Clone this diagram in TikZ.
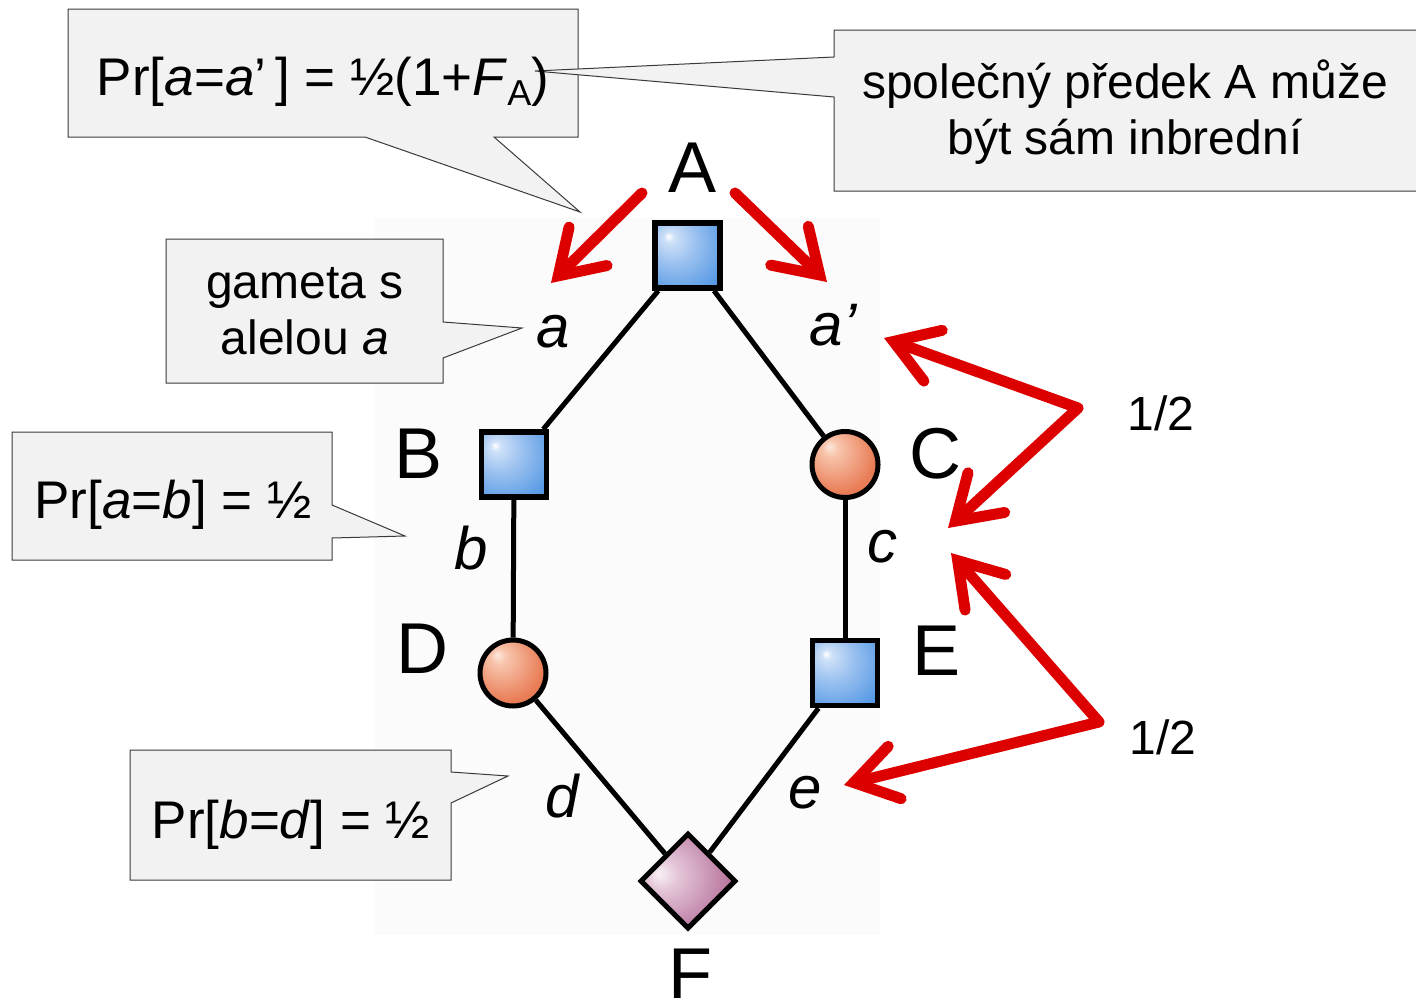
\documentclass[tikz,border=0pt]{standalone}
\usepackage{fontspec}
\setmainfont{Liberation Sans}
\usetikzlibrary{arrows.meta,shapes.geometric}
\definecolor{calfill}{HTML}{F2F2F2}
\definecolor{caldraw}{HTML}{3A3A3A}
\definecolor{arrred}{HTML}{DD0000}
\definecolor{bgpanel}{HTML}{FBFBFB}
\definecolor{blA}{HTML}{9CC2F0}
\definecolor{blB}{HTML}{4A92E2}
\definecolor{blC}{HTML}{0C6CCC}
\definecolor{orA}{HTML}{F5B190}
\definecolor{orB}{HTML}{E97E58}
\definecolor{orC}{HTML}{D65A34}
\definecolor{pkA}{HTML}{D6A8C4}
\definecolor{pkB}{HTML}{B8759D}
\definecolor{pkC}{HTML}{9C507E}
\pgfdeclareradialshading{bluesq}{\pgfpoint{-15bp}{15bp}}{color(0bp)=(white); color(4bp)=(white!50!blA); color(17bp)=(blA); color(42bp)=(blB); color(66bp)=(blC)}
\pgfdeclareradialshading{orcirc}{\pgfpoint{-12bp}{14bp}}{color(0bp)=(white!70!orA); color(6bp)=(white!25!orA); color(28bp)=(orB); color(56bp)=(orC)}
\pgfdeclareradialshading{pkdia}{\pgfpoint{-16bp}{4bp}}{color(0bp)=(white!85!pkA); color(8bp)=(white!35!pkA); color(30bp)=(pkB); color(56bp)=(pkC)}
\tikzset{
  callout/.style={fill=calfill, draw=caldraw, line width=1pt, line join=miter},
  pedline/.style={line width=5pt},
  sqnode/.style={rectangle, draw, line width=5.5pt, shade, shading=bluesq, minimum size=65pt, inner sep=0pt},
  circnode/.style={circle, draw, line width=5pt, shade, shading=orcirc, minimum size=66pt, inner sep=0pt},
  dianode/.style={diamond, draw, line width=5pt, shade, shading=pkdia, minimum size=96pt, inner sep=0pt},
  bigletter/.style={font=\fontsize{72}{72}\selectfont, inner sep=0pt, anchor=base},
  allele/.style={font=\fontsize{60}{60}\selectfont\itshape, inner sep=0pt, anchor=base},
  prtext/.style={font=\fontsize{53}{60}\selectfont, inner sep=0pt, anchor=base},
  notetext/.style={font=\fontsize{48}{56}\selectfont, inner sep=0pt, align=center},
  halftext/.style={font=\fontsize{48}{48}\selectfont, inner sep=0pt, anchor=base},
  redarr/.style={draw=arrred, line width=11pt, line cap=round, line join=round,
    -{Straight Barb[length=42pt,width=54pt,line width=11pt,line cap=round,line join=miter]}}
}
\begin{document}
\begin{tikzpicture}[x=1pt,y=-1pt]
\useasboundingbox (0,0) rectangle (1416,1001);
\fill[white] (0,0) rectangle (1416,1001);
% faint panel behind the pedigree
\fill[bgpanel] (375,218) rectangle (880,935);

% callouts
\draw[callout] (68,9) -- (578,9) -- (578,137) -- (494,137) -- (580,212) -- (365,137) -- (68,137) -- cycle;
\draw[callout] (834,30) -- (1425,30) -- (1425,191) -- (834,191) -- (834,97) -- (535,71) -- (834,57) -- cycle;
\draw[callout] (166,239) -- (443,239) -- (443,322) -- (522,328) -- (443,358) -- (443,383) -- (166,383) -- cycle;
\draw[callout] (12,432) -- (332,432) -- (332,505) -- (405,536) -- (332,538) -- (332,560) -- (12,560) -- cycle;
\draw[callout] (130,750) -- (451,750) -- (451,772) -- (508,776) -- (451,803) -- (451,880) -- (130,880) -- cycle;

\node[prtext] (t1) at (323,95) {Pr[\textit{a}=\textit{a}’\,] = ½(1+\textit{F}\raisebox{-10pt}{\fontsize{36}{36}\selectfont A})};
\node[notetext] (t2) at (1125,112) {společný předek A může\\být sám inbrední};
\node[notetext] (t3) at (305,311) {gameta s\\alelou \textit{a}};
\node[prtext] (t4) at (173,518) {Pr[\textit{a}=\textit{b}] = ½};
\node[prtext] (t5) at (291,838) {Pr[\textit{b}=\textit{d}] = ½};

% pedigree nodes
\node[sqnode] (A) at (687.5,255.5) {};
\node[sqnode] (B) at (514,464.5) {};
\node[circnode] (C) at (845,464.5) {};
\node[circnode] (D) at (513,673) {};
\node[sqnode] (E) at (845,673) {};
\node[dianode] (F) at (688,881) {};

\draw[pedline] (A) -- (B);
\draw[pedline] (A) -- (C);
\draw[pedline] (B) -- (D);
\draw[pedline] (C) -- (E);
\draw[pedline] (D) -- (F);
\draw[pedline] (E) -- (F);

% labels
\node[bigletter] (lA) at (693,192) {A};
\node[bigletter] (lB) at (419,478) {B};
\node[bigletter] (lC) at (935,478) {C};
\node[bigletter] (lD) at (422,673) {D};
\node[bigletter] (lE) at (937,675) {E};
\node[bigletter] (lF) at (690,998) {F};

\node[allele] (la) at (553,347) {a};
\node[allele] (lap) at (833,345) {a’};
\node[allele] (lb) at (471,569) {b};
\node[allele] (lc) at (882,562) {c};
\node[allele] (ld) at (562,817) {d};
\node[allele] (le) at (805,808) {e};

\node[halftext] (h1) at (1161,430) {1/2};
\node[halftext] (h2) at (1163,754) {1/2};

% red arrows
\coordinate (s1) at (642,193);
\coordinate (e1) at (551,283);
\coordinate (s2) at (735,193);
\coordinate (e2) at (827,282);
\coordinate (v3) at (1078,408);
\coordinate (e3a) at (884,338);
\coordinate (e3b) at (948,528);
\coordinate (v4) at (1099,722);
\coordinate (e4a) at (951,553);
\coordinate (e4b) at (844,785);
\draw[redarr] (s1) -- (e1);
\draw[redarr] (s2) -- (e2);
\draw[redarr] (v3) -- (e3a);
\draw[redarr] (v3) -- (e3b);
\draw[redarr] (v4) -- (e4a);
\draw[redarr] (v4) -- (e4b);
\end{tikzpicture}
\end{document}
